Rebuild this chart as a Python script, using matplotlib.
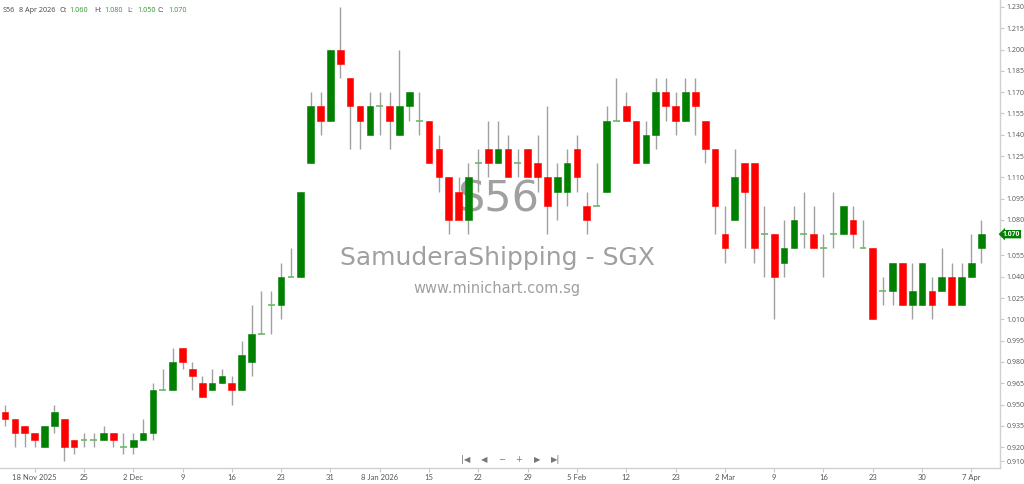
import matplotlib
matplotlib.use("Agg")
import matplotlib.pyplot as plt
import matplotlib.transforms as mtransforms

plt.rcParams["font.family"] = ["Open Sans", "DejaVu Sans"]

# ---- data (13 Nov 2025 .. 8 Apr 2026, trading days) ----
opens = [0.945,0.940,0.935,0.930,0.920,0.935,0.940,0.925,0.925,0.925,
         0.925,0.930,0.920,0.920,0.925,0.930,0.960,0.960,0.990,0.975,
         0.965,0.960,0.965,0.965,0.960,0.980,1.000,1.020,1.020,1.040,
         1.040,1.120,1.160,1.150,1.200,1.180,1.160,1.140,1.160,1.160,
         1.140,1.160,1.150,1.150,1.130,1.110,1.100,1.080,1.120,1.130,
         1.120,1.130,1.120,1.130,1.120,1.110,1.100,1.100,1.130,1.090,
         1.090,1.100,1.150,1.160,1.150,1.120,1.140,1.170,1.160,1.150,
         1.170,1.150,1.130,1.070,1.080,1.120,1.120,1.070,1.070,1.050,
         1.060,1.070,1.070,1.060,1.070,1.070,1.080,1.060,1.060,1.030,
         1.030,1.050,1.020,1.020,1.030,1.030,1.040,1.020,1.040,1.060]
highs = [0.950,0.940,0.935,0.930,0.935,0.950,0.940,0.925,0.930,0.930,
         0.935,0.930,0.930,0.930,0.940,0.965,0.975,0.990,0.990,0.980,
         0.970,0.975,0.975,0.970,0.995,1.020,1.030,1.030,1.050,1.060,
         1.100,1.170,1.170,1.200,1.230,1.180,1.160,1.170,1.170,1.170,
         1.200,1.170,1.170,1.150,1.140,1.110,1.110,1.120,1.130,1.150,
         1.150,1.140,1.130,1.130,1.140,1.160,1.120,1.130,1.140,1.100,
         1.120,1.160,1.180,1.170,1.150,1.150,1.180,1.180,1.170,1.180,
         1.180,1.150,1.130,1.090,1.130,1.120,1.120,1.090,1.070,1.080,
         1.090,1.100,1.090,1.070,1.100,1.090,1.090,1.080,1.060,1.040,
         1.050,1.050,1.050,1.050,1.040,1.060,1.050,1.050,1.070,1.080]
lows = [0.935,0.920,0.920,0.920,0.920,0.930,0.910,0.915,0.920,0.920,
        0.925,0.920,0.915,0.915,0.925,0.925,0.960,0.960,0.975,0.960,
        0.955,0.960,0.965,0.950,0.960,0.970,1.000,1.000,1.010,1.040,
        1.040,1.120,1.140,1.150,1.180,1.130,1.130,1.140,1.140,1.130,
        1.140,1.150,1.140,1.120,1.100,1.070,1.080,1.070,1.100,1.110,
        1.120,1.110,1.110,1.110,1.100,1.070,1.080,1.090,1.100,1.070,
        1.090,1.100,1.150,1.150,1.120,1.120,1.130,1.150,1.140,1.150,
        1.140,1.120,1.070,1.050,1.080,1.060,1.050,1.040,1.010,1.040,
        1.060,1.060,1.060,1.040,1.060,1.070,1.060,1.060,1.010,1.020,
        1.020,1.020,1.010,1.020,1.010,1.030,1.020,1.020,1.040,1.050]
closes = [0.940,0.930,0.930,0.925,0.935,0.945,0.920,0.920,0.925,0.925,
          0.930,0.925,0.920,0.925,0.930,0.960,0.960,0.980,0.980,0.970,
          0.955,0.965,0.970,0.960,0.985,1.000,1.000,1.020,1.040,1.040,
          1.100,1.160,1.150,1.200,1.190,1.160,1.150,1.160,1.160,1.150,
          1.160,1.170,1.150,1.120,1.110,1.080,1.080,1.110,1.120,1.120,
          1.130,1.110,1.120,1.110,1.110,1.090,1.110,1.120,1.110,1.080,
          1.090,1.150,1.150,1.150,1.120,1.140,1.170,1.160,1.150,1.170,
          1.160,1.130,1.090,1.060,1.110,1.100,1.060,1.070,1.040,1.060,
          1.080,1.070,1.060,1.060,1.070,1.090,1.070,1.060,1.010,1.030,
          1.050,1.020,1.030,1.050,1.020,1.040,1.020,1.040,1.050,1.070]

xtick_idx = [3, 8, 13, 18, 23, 28, 33, 38, 43, 48, 53, 58, 63, 68, 73, 78, 83, 88, 93, 98]
xtick_labels = ["18 Nov 2025", "25", "2 Dec", "9", "16", "23", "31", "8 Jan 2026", "15", "22",
                "29", "5 Feb", "12", "23", "2 Mar", "9", "16", "23", "30", "7 Apr"]
ytick_vals = [1.230, 1.215, 1.200, 1.185, 1.170, 1.155, 1.140, 1.125, 1.110, 1.095, 1.080,
              1.055, 1.040, 1.025, 1.010, 0.995, 0.980, 0.965, 0.950, 0.935, 0.920, 0.910]

UP = "#008000"
DOWN = "#ff0000"
WICK = "#a0a0a0"
DOJI = "#6cb86c"

W, H = 1024, 484
fig = plt.figure(figsize=(W / 100, H / 100), dpi=100)
fig.patch.set_facecolor("white")
ax = fig.add_axes([0, 16 / H, 1000 / W, 1 - 16 / H])
ax.set_facecolor("white")

n = len(opens)
xs = list(range(n))
ax.vlines(xs, lows, highs, color=WICK, linewidth=1.0, zorder=1)
bw = 0.68
for i in xs:
    o, c = opens[i], closes[i]
    if abs(c - o) < 1e-9:
        ax.hlines(o, i - bw / 2, i + bw / 2, color=DOJI, linewidth=1.2, zorder=2)
    else:
        col = UP if c > o else DOWN
        ax.bar(i, abs(c - o), bottom=min(o, c), width=bw, color=col,
               edgecolor=col, linewidth=0.4, zorder=2)

ax.set_xlim(-0.507, 100.9)
ax.set_ylim(0.90535, 1.2349)

for s in ["top", "left"]:
    ax.spines[s].set_visible(False)
for s in ["right", "bottom"]:
    ax.spines[s].set_color("#d0d0d0")
    ax.spines[s].set_linewidth(1.0)

ax.yaxis.tick_right()
ax.set_yticks(ytick_vals)
ax.set_yticklabels([f"{v:.3f}" for v in ytick_vals])
ax.set_xticks(xtick_idx)
ax.set_xticklabels(xtick_labels, family=["Lato", "DejaVu Sans"])
ax.tick_params(axis="both", colors="#c8c8c8", labelcolor="#555555",
               length=3, width=0.8, pad=1.5)
ax.tick_params(axis="y", labelsize=5)
ax.tick_params(axis="x", labelsize=5.5)

# price tag
trans = mtransforms.blended_transform_factory(ax.transAxes, ax.transData)
ax.text(1.003, closes[-1], f"{closes[-1]:.3f}", transform=trans, color="white",
        fontsize=4.9, fontweight="bold", va="center", ha="left", zorder=5, clip_on=False,
        bbox=dict(boxstyle="larrow,pad=0.1", fc=UP, ec="none"))

# watermark
WM = ["DejaVu Sans"]
ax.text(0.498, 0.573, "S56", transform=ax.transAxes, fontsize=31, color="#a0a0a0",
        ha="center", va="center", zorder=0, family=WM)
ax.text(0.497, 0.449, "SamuderaShipping - SGX", transform=ax.transAxes, fontsize=18,
        color="#a0a0a0", ha="center", va="center", zorder=0, family=WM)
ax.text(0.497, 0.3825, "www.minichart.com.sg", transform=ax.transAxes, fontsize=10.5,
        color="#a0a0a0", ha="center", va="center", zorder=0, family=WM)

# header
def ftext(px, py, s, **kw):
    fig.text(px / W, 1 - py / H, s, fontsize=5.2, va="center", ha="left", **kw)

ftext(3, 10, "S56", color="#444444")
ftext(19, 10, "8 Apr 2026", color="#444444")
hdr = [("O:", opens[-1], 59), ("H:", highs[-1], 94), ("L:", lows[-1], 127), ("C:", closes[-1], 158)]
for lab, val, px in hdr:
    ftext(px, 10, lab, color="#444444")
    ftext(px + 10, 10, f"{val:.3f}", color="#2a9a2a")

# navigation icons
nav = ["|◀", "◀", "−", "+", "▶", "▶|"]
nav_x = [466, 484, 502, 519, 537, 556]
for s, px in zip(nav, nav_x):
    fig.text(px / W, 1 - 460 / H, s, fontsize=6, color="#777777", ha="center", va="center",
             family="DejaVu Sans")

fig.savefig("out.png", dpi=100)
